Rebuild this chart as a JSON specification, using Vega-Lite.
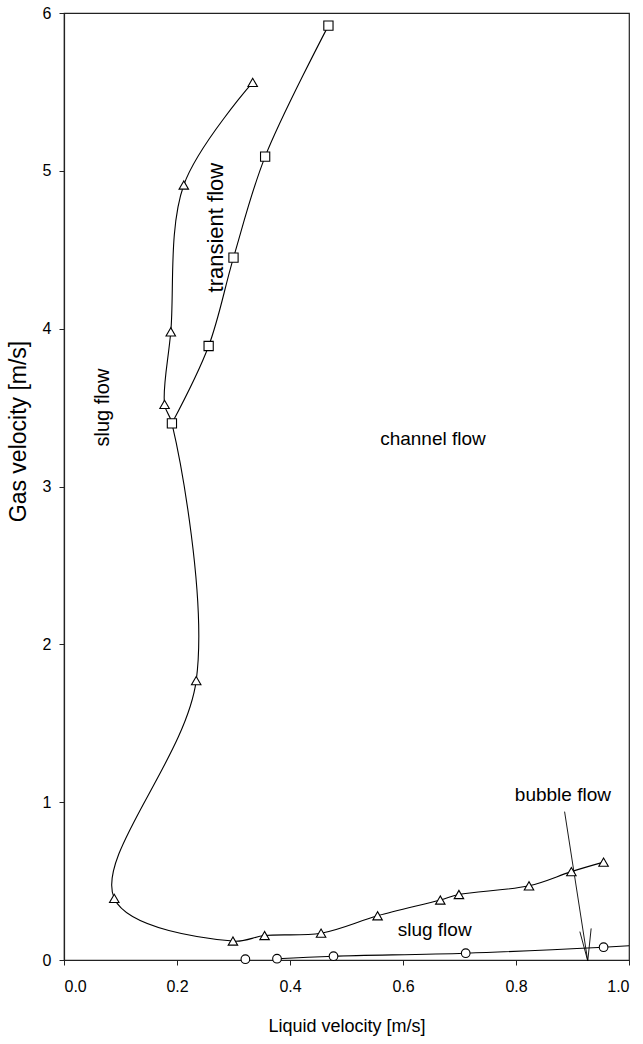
{
  "$schema": "https://vega.github.io/schema/vega-lite/v6.json",
  "width": 565,
  "height": 947,
  "autosize": {"type": "none"},
  "padding": {"left": 64, "top": 13, "right": 14, "bottom": 84},
  "background": "white",
  "config": {
    "font": "Liberation Sans",
    "view": {"stroke": "#222", "strokeWidth": 1.2},
    "axis": {"grid": false, "domainColor": "#222", "domainWidth": 1.2, "tickColor": "#222", "tickSize": 5, "labelColor": "#000", "titleColor": "#000", "titleFontWeight": "normal", "labelFont": "Liberation Sans", "titleFont": "Liberation Sans"}
  },
  "datasets": {
    "curves": [
      {"series": "triangle", "order": 1, "x": 0.334, "y": 5.56},
      {"series": "triangle", "order": 2, "x": 0.212, "y": 4.91},
      {"series": "triangle", "order": 3, "x": 0.189, "y": 3.98},
      {"series": "triangle", "order": 4, "x": 0.178, "y": 3.52},
      {"series": "triangle", "order": 5, "x": 0.191, "y": 3.40},
      {"series": "triangle", "order": 6, "x": 0.234, "y": 1.77},
      {"series": "triangle", "order": 7, "x": 0.089, "y": 0.39},
      {"series": "triangle", "order": 8, "x": 0.299, "y": 0.12},
      {"series": "triangle", "order": 9, "x": 0.355, "y": 0.155},
      {"series": "triangle", "order": 10, "x": 0.455, "y": 0.17},
      {"series": "triangle", "order": 11, "x": 0.555, "y": 0.28},
      {"series": "triangle", "order": 12, "x": 0.666, "y": 0.38},
      {"series": "triangle", "order": 13, "x": 0.699, "y": 0.415},
      {"series": "triangle", "order": 14, "x": 0.823, "y": 0.47},
      {"series": "triangle", "order": 15, "x": 0.898, "y": 0.56},
      {"series": "triangle", "order": 16, "x": 0.955, "y": 0.62},
      {"series": "square", "order": 1, "x": 0.191, "y": 3.40},
      {"series": "square", "order": 2, "x": 0.256, "y": 3.89},
      {"series": "square", "order": 3, "x": 0.300, "y": 4.45},
      {"series": "square", "order": 4, "x": 0.356, "y": 5.09},
      {"series": "square", "order": 5, "x": 0.468, "y": 5.92},
      {"series": "circle", "order": 1, "x": 0.377, "y": 0.008},
      {"series": "circle", "order": 2, "x": 0.477, "y": 0.024},
      {"series": "circle", "order": 3, "x": 0.711, "y": 0.043},
      {"series": "circle", "order": 4, "x": 0.955, "y": 0.081},
      {"series": "circle", "order": 5, "x": 1.0, "y": 0.09}
    ],
    "triangles": [
      {"x": 0.334, "y": 5.56}, {"x": 0.212, "y": 4.91}, {"x": 0.189, "y": 3.98},
      {"x": 0.178, "y": 3.52}, {"x": 0.234, "y": 1.77}, {"x": 0.089, "y": 0.39},
      {"x": 0.299, "y": 0.12}, {"x": 0.355, "y": 0.155}, {"x": 0.455, "y": 0.17},
      {"x": 0.555, "y": 0.28}, {"x": 0.666, "y": 0.38}, {"x": 0.699, "y": 0.415},
      {"x": 0.823, "y": 0.47}, {"x": 0.898, "y": 0.56}, {"x": 0.955, "y": 0.62}
    ],
    "squares": [
      {"x": 0.191, "y": 3.40}, {"x": 0.256, "y": 3.89}, {"x": 0.300, "y": 4.45},
      {"x": 0.356, "y": 5.09}, {"x": 0.468, "y": 5.92}
    ],
    "circles": [
      {"x": 0.321, "y": 0.005}, {"x": 0.377, "y": 0.008}, {"x": 0.477, "y": 0.024},
      {"x": 0.711, "y": 0.043}, {"x": 0.955, "y": 0.081}
    ],
    "arrow": [
      {"x": 0.886, "y": 0.94, "x2": 0.927, "y2": -0.006},
      {"x": 0.913, "y": 0.18, "x2": 0.927, "y2": -0.006},
      {"x": 0.933, "y": 0.20, "x2": 0.927, "y2": -0.006}
    ],
    "labels_h": [
      {"label": "channel flow", "x": 0.653, "y": 3.30},
      {"label": "bubble flow", "x": 0.883, "y": 1.048},
      {"label": "slug flow", "x": 0.656, "y": 0.193}
    ],
    "labels_v1": [
      {"label": "slug flow", "x": 0.069, "y": 3.50}
    ],
    "labels_v2": [
      {"label": "transient flow", "x": 0.269, "y": 4.64}
    ]
  },
  "encoding": {
    "x": {
      "field": "x", "type": "quantitative",
      "scale": {"domain": [0, 1], "nice": false, "zero": false},
      "axis": {"values": [0, 0.2, 0.4, 0.6, 0.8, 1.0], "format": ".1f", "title": "Liquid velocity [m/s]", "labelFontSize": 16, "labelPadding": 13, "titleFontSize": 18, "titleY": 66, "titleBaseline": "middle"}
    },
    "y": {
      "field": "y", "type": "quantitative",
      "scale": {"domain": [0, 6], "nice": false, "zero": false},
      "axis": {"values": [0, 1, 2, 3, 4, 5, 6], "format": "d", "title": "Gas velocity [m/s]", "labelFontSize": 16, "labelPadding": 8, "titleFontSize": 23, "titleAngle": 270, "titleX": -46, "titleY": 418, "titleAlign": "center", "titleBaseline": "middle"}
    }
  },
  "layer": [
    {
      "data": {"name": "curves"},
      "mark": {"type": "line", "interpolate": "catmull-rom", "color": "#000", "strokeWidth": 1.1},
      "encoding": {"detail": {"field": "series"}, "order": {"field": "order", "type": "quantitative"}}
    },
    {
      "data": {"name": "arrow"},
      "mark": {"type": "rule", "color": "#000", "strokeWidth": 0.9},
      "encoding": {"x2": {"field": "x2"}, "y2": {"field": "y2"}}
    },
    {
      "data": {"name": "triangles"},
      "mark": {"type": "point", "shape": "triangle-up", "filled": true, "fill": "white", "stroke": "#000", "strokeWidth": 1.1, "size": 90, "opacity": 1}
    },
    {
      "data": {"name": "squares"},
      "mark": {"type": "point", "shape": "square", "filled": true, "fill": "white", "stroke": "#000", "strokeWidth": 1.1, "size": 85, "opacity": 1}
    },
    {
      "data": {"name": "circles"},
      "mark": {"type": "point", "shape": "circle", "filled": true, "fill": "white", "stroke": "#000", "strokeWidth": 1.1, "size": 75, "opacity": 1}
    },
    {
      "data": {"name": "labels_h"},
      "mark": {"type": "text", "fontSize": 19, "font": "Liberation Sans", "align": "center", "baseline": "middle", "color": "#000"},
      "encoding": {"text": {"field": "label"}}
    },
    {
      "data": {"name": "labels_v1"},
      "mark": {"type": "text", "fontSize": 20, "font": "Liberation Sans", "align": "center", "baseline": "middle", "angle": 270, "color": "#000"},
      "encoding": {"text": {"field": "label"}}
    },
    {
      "data": {"name": "labels_v2"},
      "mark": {"type": "text", "fontSize": 22, "font": "Liberation Sans", "align": "center", "baseline": "middle", "angle": 270, "color": "#000"},
      "encoding": {"text": {"field": "label"}}
    }
  ]
}
